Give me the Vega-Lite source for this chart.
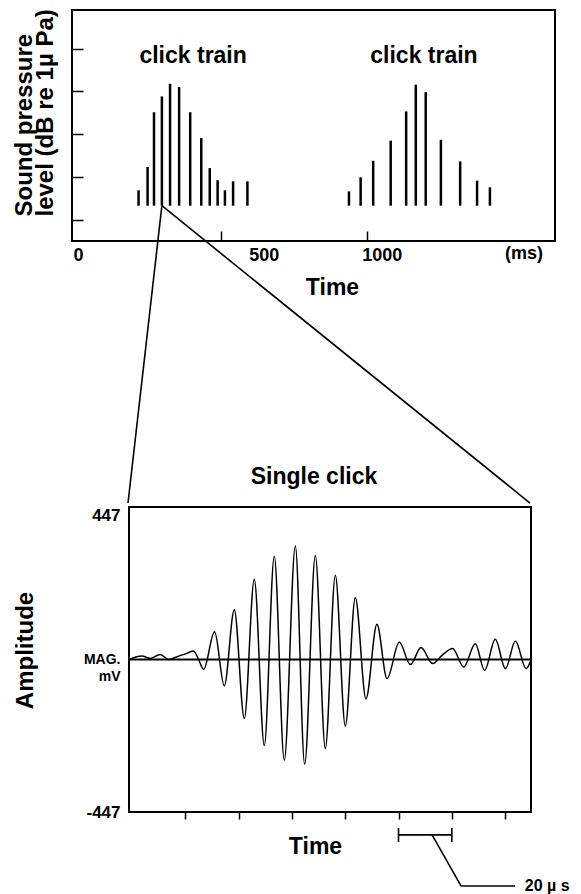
{
  "$schema": "https://vega.github.io/schema/vega-lite/v6.json",
  "padding": {"left": 11, "top": 7, "right": 4, "bottom": 2},
  "background": "white",
  "config": {
    "font": "Liberation Sans",
    "view": {"stroke": "black", "strokeWidth": 2},
    "axis": {"labelColor": "black", "titleColor": "black", "tickColor": "black", "labelFont": "Liberation Sans", "titleFont": "Liberation Sans", "grid": false, "domain": false},
    "text": {"font": "Liberation Sans", "color": "black", "fontWeight": "bold"}
  },
  "columns": 1,
  "spacing": -40,
  "concat": [
    {
      "width": 483,
      "height": 231,
      "layer": [
        {
          "data": {"values": [
            {"t": 218, "v": 2.37}, {"t": 249, "v": 3.46}, {"t": 271, "v": 6.02}, {"t": 298, "v": 6.76},
            {"t": 326, "v": 7.35}, {"t": 357, "v": 7.2}, {"t": 395, "v": 6.02}, {"t": 433, "v": 4.81},
            {"t": 462, "v": 3.41}, {"t": 489, "v": 2.84}, {"t": 514, "v": 2.37}, {"t": 542, "v": 2.79},
            {"t": 591, "v": 2.79},
            {"t": 939, "v": 2.32}, {"t": 979, "v": 2.98}, {"t": 1022, "v": 3.75}, {"t": 1082, "v": 4.69},
            {"t": 1135, "v": 6.06}, {"t": 1168, "v": 7.31}, {"t": 1202, "v": 6.96}, {"t": 1254, "v": 4.73},
            {"t": 1320, "v": 3.72}, {"t": 1378, "v": 2.82}, {"t": 1422, "v": 2.51}
          ]},
          "mark": {"type": "rule", "strokeWidth": 2.5, "color": "black"},
          "encoding": {
            "x": {
              "field": "t", "type": "quantitative",
              "scale": {"domain": [-10, 1645], "nice": false, "zero": false},
              "axis": {
                "values": [0, 500, 1000], "format": "d",
                "tickSize": -10, "tickWidth": 1.5,
                "tickOpacity": {"condition": {"test": "datum.value == 0", "value": 0}, "value": 1},
                "labelPadding": 15, "labelFontSize": 18, "labelFontWeight": "bold", "labelFlush": false,
                "labelOffset": {"condition": [{"test": "datum.value == 500", "value": 43}, {"test": "datum.value == 1000", "value": 15}], "value": 3},
                "title": "Time", "titleFontSize": 23, "titleFontWeight": "bold", "titlePadding": 12, "titleX": 260
              }
            },
            "y": {
              "field": "v", "type": "quantitative",
              "scale": {"domain": [0, 10.8], "nice": false, "zero": false},
              "axis": {
                "values": [1, 2, 3, 4, 5, 6, 7, 8, 9, 10],
                "labels": false, "tickSize": -11, "tickWidth": 1.5,
                "title": ["Sound pressure", "level (dB re 1µ Pa)"],
                "titleFontSize": 24, "titleFontWeight": "bold", "titleAngle": -90,
                "titleAlign": "left", "titleBaseline": "top", "titleX": -60, "titleY": 206, "titleLineHeight": 21
              }
            },
            "y2": {"datum": 1.65}
          }
        },
        {
          "data": {"values": [
            {"t": 405, "v": 8.65, "label": "click train"},
            {"t": 1196, "v": 8.65, "label": "click train"}
          ]},
          "mark": {"type": "text", "fontSize": 23, "fontWeight": "bold", "baseline": "middle", "align": "center"},
          "encoding": {
            "x": {"field": "t", "type": "quantitative"},
            "y": {"field": "v", "type": "quantitative"},
            "text": {"field": "label"}
          }
        },
        {
          "data": {"values": [{"t": 1539, "v": -0.61, "label": "(ms)"}]},
          "mark": {"type": "text", "fontSize": 18, "fontWeight": "bold", "baseline": "middle", "align": "center"},
          "encoding": {
            "x": {"field": "t", "type": "quantitative"},
            "y": {"field": "v", "type": "quantitative"},
            "text": {"field": "label"}
          }
        },
        {
          "data": {"values": [
            {"t": 298, "v": 1.65, "t2": 181.9, "v2": -12.25},
            {"t": 298, "v": 1.65, "t2": 1559.4, "v2": -12.25}
          ]},
          "mark": {"type": "rule", "strokeWidth": 1.6, "color": "black"},
          "encoding": {
            "x": {"field": "t", "type": "quantitative"},
            "y": {"field": "v", "type": "quantitative"},
            "x2": {"field": "t2"},
            "y2": {"field": "v2"}
          }
        }
      ]
    },
    {
      "columns": 2,
      "spacing": -61,
      "concat": [
        {
          "width": 1,
          "height": 1,
          "view": {"stroke": null},
          "data": {"values": []},
          "mark": {"type": "point", "opacity": 0}
        },
        {
          "width": 402,
          "height": 305,
          "title": {"text": "Single click", "fontSize": 23, "fontWeight": "bold", "font": "Liberation Sans", "color": "black", "dx": -16, "offset": -1, "baseline": "alphabetic", "anchor": "middle"},
          "layer": [
            {
              "data": {"values": [
                {"x": -21.1, "y": 0}, {"x": -16.25, "y": 10}, {"x": -13.1, "y": 3}, {"x": -9.4, "y": 15},
                {"x": -6.2, "y": 0}, {"x": -2.5, "y": 10}, {"x": 0.6, "y": 18}, {"x": 3.1, "y": 25},
                {"x": 5.0, "y": 0}, {"x": 6.9, "y": -29}, {"x": 11.0, "y": 81}, {"x": 14.65, "y": -77},
                {"x": 18.4, "y": 146}, {"x": 22.15, "y": -173}, {"x": 25.9, "y": 235}, {"x": 29.65, "y": -252},
                {"x": 33.4, "y": 303}, {"x": 37.15, "y": -295}, {"x": 41.3, "y": 333}, {"x": 44.8, "y": -307},
                {"x": 48.8, "y": 305}, {"x": 52.55, "y": -261}, {"x": 56.3, "y": 247}, {"x": 60.05, "y": -195},
                {"x": 63.8, "y": 181}, {"x": 67.8, "y": -115}, {"x": 71.9, "y": 103}, {"x": 75.7, "y": -56},
                {"x": 80.3, "y": 51}, {"x": 84.45, "y": -15}, {"x": 88.45, "y": 35}, {"x": 92.8, "y": -12},
                {"x": 96.3, "y": 12}, {"x": 100.3, "y": 32}, {"x": 104.45, "y": -22}, {"x": 108.8, "y": 46},
                {"x": 112.3, "y": -32}, {"x": 116.3, "y": 59}, {"x": 120.1, "y": -27}, {"x": 123.85, "y": 54},
                {"x": 127.85, "y": -27}, {"x": 129.5, "y": -5}
              ]},
              "mark": {"type": "line", "interpolate": "monotone", "strokeWidth": 1.5, "color": "black"},
              "encoding": {
                "x": {
                  "field": "x", "type": "quantitative",
                  "scale": {"domain": [-21.1, 129.7], "nice": false, "zero": false},
                  "axis": {
                    "values": [0, 20, 40, 60, 80, 100, 120],
                    "labels": false, "tickSize": 7, "tickWidth": 1.5,
                    "title": "Time", "titleFontSize": 23, "titleFontWeight": "bold", "titlePadding": 16, "titleX": 186
                  }
                },
                "y": {
                  "field": "y", "type": "quantitative",
                  "scale": {"domain": [-447, 447], "nice": false, "zero": false},
                  "axis": {
                    "values": [-447, 0, 447],
                    "ticks": false, "labelPadding": 9, "labelFontWeight": "bold", "labelFlush": false,
                    "labelExpr": "datum.value == 0 ? ['MAG.', 'mV'] : (datum.value > 0 ? '447' : '-447')",
                    "labelFontSize": {"condition": {"test": "datum.value == 0", "value": 14}, "value": 17},
                    "labelBaseline": {"condition": {"test": "datum.value == 447", "value": "top"}, "value": "middle"},
                    "labelLineHeight": 17,
                    "title": "Amplitude", "titleFontSize": 24, "titleFontWeight": "bold", "titleAngle": -90,
                    "titleAlign": "center", "titleBaseline": "top", "titleX": -116, "titleY": 143
                  }
                }
              }
            },
            {
              "data": {"values": [{"level": 0}]},
              "mark": {"type": "rule", "strokeWidth": 2.2, "color": "black"},
              "encoding": {"y": {"field": "level", "type": "quantitative"}}
            },
            {
              "data": {"values": [
                {"x": 80, "xe": 100, "y": -514, "ye": -514},
                {"x": 80, "xe": 80, "y": -494, "ye": -535},
                {"x": 100, "xe": 100, "y": -494, "ye": -535},
                {"x": 92.6, "xe": 103.5, "y": -514, "ye": -664},
                {"x": 103.5, "xe": 123.7, "y": -664, "ye": -664}
              ]},
              "mark": {"type": "rule", "strokeWidth": 1.6, "color": "black"},
              "encoding": {
                "x": {"field": "x", "type": "quantitative"},
                "y": {"field": "y", "type": "quantitative"},
                "x2": {"field": "xe"},
                "y2": {"field": "ye"}
              }
            },
            {
              "data": {"values": [{"x": 127.4, "y": -664, "label": "20 µ s"}]},
              "mark": {"type": "text", "fontSize": 16, "fontWeight": "bold", "baseline": "middle", "align": "left"},
              "encoding": {
                "x": {"field": "x", "type": "quantitative"},
                "y": {"field": "y", "type": "quantitative"},
                "text": {"field": "label"}
              }
            }
          ]
        }
      ]
    }
  ]
}
